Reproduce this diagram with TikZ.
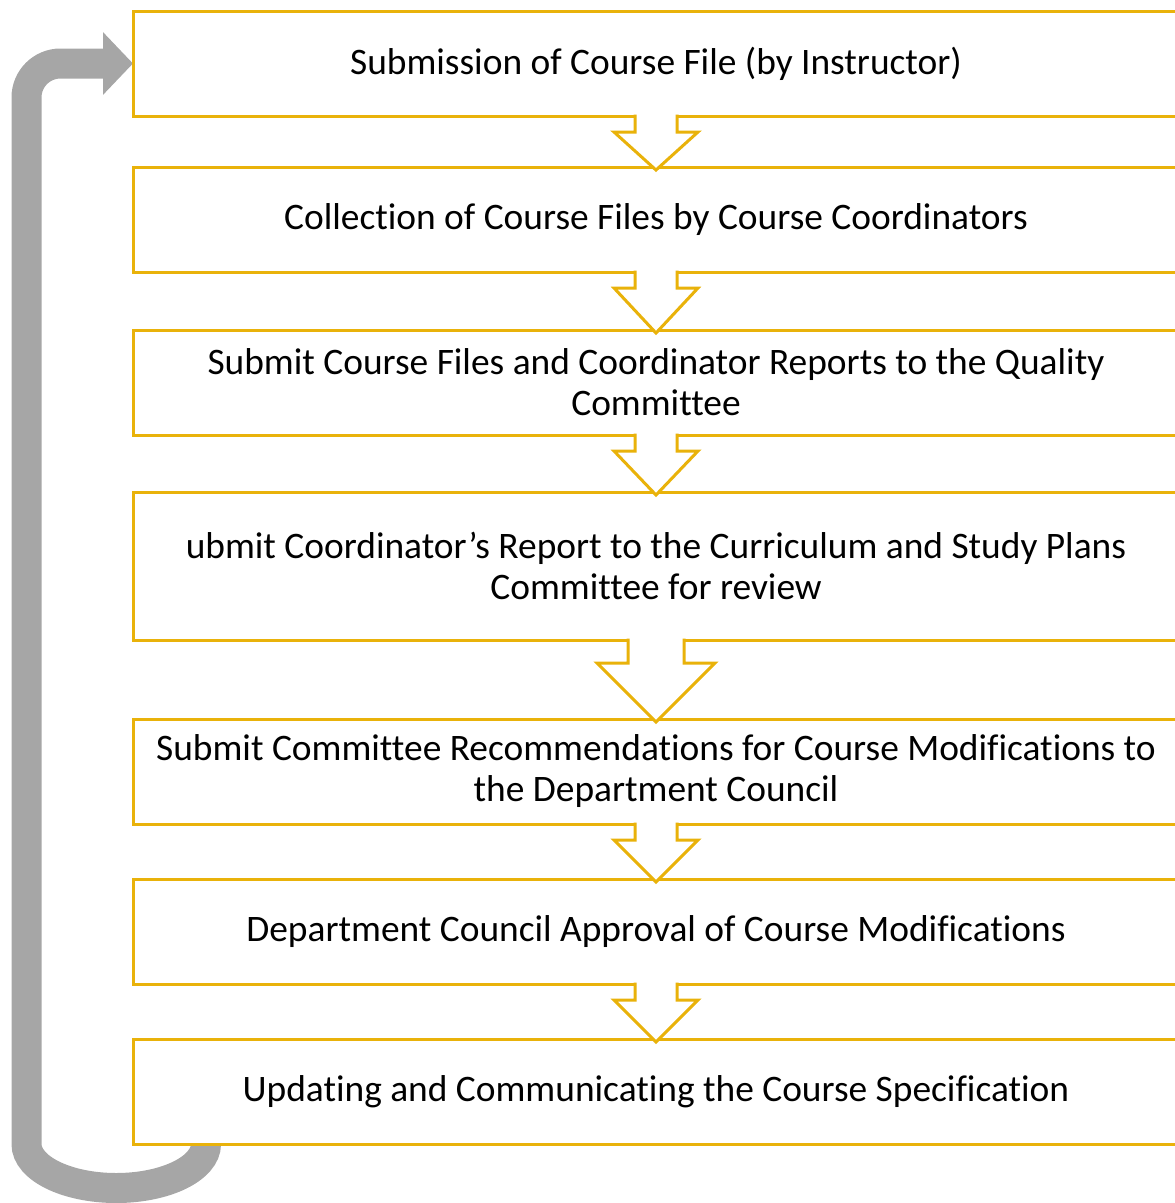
\documentclass[tikz,border=0pt]{standalone}
\usepackage{xcolor}
\usepackage{fontspec}
\setmainfont{Carlito}[Ligatures=NoCommon]
\usepackage{pgf,tikz}
\usetikzlibrary{arrows.meta}
\usetikzlibrary{backgrounds}
\tikzset{
  font={\fontsize{37.4pt}{41pt}\selectfont}}
\definecolor{boxgold}{RGB}{233,178,10}
\definecolor{loopgray}{RGB}{166,166,166}

% hollow down arrow from box #1 to box #2 (shaft half, head half, shaft length)
\newcommand{\flowarrow}[5]{%
  \fill[white] ([xshift=-#3,yshift=2pt]#1.south) -- ([xshift=-#3,yshift=-#5]#1.south)
    -- ([xshift=-#4,yshift=-#5]#1.south) -- ([yshift=-3pt]#2.north)
    -- ([xshift=#4,yshift=-#5]#1.south) -- ([xshift=#3,yshift=-#5]#1.south)
    -- ([xshift=#3,yshift=2pt]#1.south) -- cycle;
  \draw[hollow] ([xshift=-#3,yshift=1.5pt]#1.south) -- ([xshift=-#3,yshift=-#5]#1.south)
    -- ([xshift=-#4,yshift=-#5]#1.south) -- ([yshift=-3pt]#2.north)
    -- ([xshift=#4,yshift=-#5]#1.south) -- ([xshift=#3,yshift=-#5]#1.south)
    -- ([xshift=#3,yshift=1.5pt]#1.south);}

\begin{document}
\begin{tikzpicture}[x=1pt, y=-1pt]

        \tikzset{stage/.style = {draw=boxgold, line width=3pt, fill=white, rectangle,
                   minimum width=1046pt, outer sep=0pt, align=center, inner sep=0pt},
                 hollow/.style = {draw=boxgold, line width=3pt, line join=miter},
                 loopback/.style = {draw=loopgray, line width=30pt,
                   -{Triangle[width=61pt, length=30pt]}}}

        \useasboundingbox (0,0) rectangle (1175,1203);
        \clip (0,0) rectangle (1175,1203);

        % vertices
        \node[stage, minimum height=105pt] (submit) at (656,63.5) {Submission of Course File (by Instructor)};
        \node[stage, minimum height=105pt] (collect) at (656,219.5) {Collection of Course Files by Course Coordinators};
        \node[stage, minimum height=105pt] (quality) at (656,382.5) {Submit Course Files and Coordinator Reports to the Quality\\Committee};
        \node[stage, minimum height=148pt] (review) at (656,566) {ubmit Coordinator’s Report to the Curriculum and Study Plans\\Committee for review};
        \node[stage, minimum height=105pt] (recommend) at (656,771.5) {Submit Committee Recommendations for Course Modifications to\\the Department Council};
        \node[stage, minimum height=105pt] (approve) at (656,931.5) {Department Council Approval of Course Modifications};
        \node[stage, minimum height=105pt] (update) at (656,1091.5) {Updating and Communicating the Course Specification};

        % edges
        \flowarrow{submit}{collect}{21pt}{42pt}{16pt}
        \flowarrow{collect}{quality}{21pt}{42pt}{16pt}
        \flowarrow{quality}{review}{21pt}{42pt}{16pt}
        \flowarrow{review}{recommend}{28pt}{59pt}{23pt}
        \flowarrow{recommend}{approve}{21pt}{42pt}{16pt}
        \flowarrow{approve}{update}{21pt}{42pt}{16pt}

        % loop back
        \begin{pgfonlayer}{background}
        \draw[loopback] ([xshift=73pt,yshift=4pt]update.south west) -- ++(0,4)
            arc[start angle=0, end angle=-180, x radius=89.75pt, y radius=44pt]
            [rounded corners=34pt] |- (submit.west);
        \end{pgfonlayer}

\end{tikzpicture}
\end{document}
